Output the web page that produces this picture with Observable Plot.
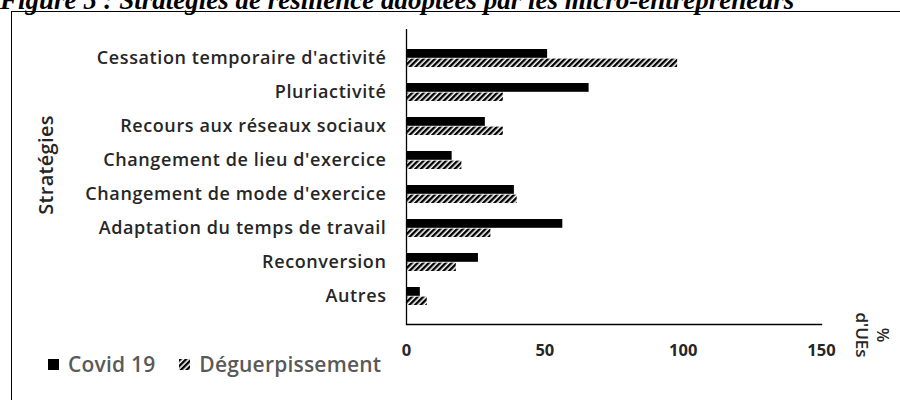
<!DOCTYPE html>
<html>
<head>
<meta charset="utf-8">
<script src="https://cdn.jsdelivr.net/npm/d3@7"></script>
<script src="https://cdn.jsdelivr.net/npm/@observablehq/plot@0.6"></script>
<style>
  html, body { margin: 0; padding: 0; background: #fff; }
  #wrap { position: relative; width: 900px; height: 400px; overflow: hidden; background: #fff; }
  #title { position: absolute; left: 0; top: -13px; font-family: "Liberation Serif", serif; font-weight: bold; font-style: italic; font-size: 27px; line-height: 1; white-space: nowrap; color: #000; }
  #frame { position: absolute; left: 11px; top: 11px; width: 1000px; height: 500px; border: 1.5px solid #000; box-sizing: border-box; }
  #chart { position: absolute; left: 0; top: 0; }
  #legend { position: absolute; left: 48px; top: 350px; font-family: "Open Sans", sans-serif; font-weight: 600; font-size: 21px; letter-spacing: 0.2px; color: #595959; display: flex; align-items: center; white-space: nowrap; }
  #legend .item { display: flex; align-items: center; margin-right: 24px; }
  #legend svg { margin-right: 9px; }
  #ylab { position: absolute; left: 45px; top: 165px; transform: translate(-50%, -50%) rotate(-90deg); font-family: "Open Sans", sans-serif; font-weight: 600; font-size: 20px; letter-spacing: 0.3px; color: #262626; white-space: nowrap; }
  #xlab { position: absolute; left: 873px; top: 335px; transform: translate(-50%, -50%) rotate(90deg); font-family: "Open Sans", sans-serif; font-weight: 600; font-size: 17px; color: #262626; white-space: nowrap; text-align: center; line-height: 1.25; }
  #chart text { font-family: "Open Sans", sans-serif; }
  #chart g[aria-label="y-axis tick label"] text { letter-spacing: 0.6px; }
</style>
</head>
<body>
<div id="wrap">
  <div id="frame"></div>
  <div id="title">Figure 5 : Stratégies de résilience adoptées par les micro-entrepreneurs</div>
  <div id="chart"></div>
  <div id="ylab">Stratégies</div>
  <div id="xlab">%<br>d'UEs</div>
  <div id="legend"></div>
</div>
<script>
const categories = [
  "Cessation temporaire d'activité",
  "Pluriactivité",
  "Recours aux réseaux sociaux",
  "Changement de lieu d'exercice",
  "Changement de mode d'exercice",
  "Adaptation du temps de travail",
  "Reconversion",
  "Autres"
];
const series = ["Covid 19", "Déguerpissement"];
const covid = [51, 66, 28.5, 16.5, 39, 56.5, 26, 5];
const deguerp = [98, 35, 35, 20, 40, 30.5, 18, 7.5];
const xTicks = [0, 50, 100, 150];

const covidRows = categories.map((c, i) => ({cat: c, serie: series[0], value: covid[i]}));
const degRows = categories.map((c, i) => ({cat: c, serie: series[1], value: deguerp[i]}));

const chart = Plot.plot({
  width: 900,
  height: 400,
  marginLeft: 406,
  marginRight: 79,
  marginTop: 29,
  marginBottom: 76,
  style: {background: "transparent", fontFamily: "'Open Sans', sans-serif"},
  x: {domain: [0, 150], ticks: xTicks},
  y: {domain: categories, padding: 0.48},
  marks: [
    Plot.barX(covidRows, {y: "cat", x: "value", fill: "#000", insetBottom: 9.2}),
    Plot.barX(degRows, {y: "cat", x: "value", fill: "url(#hatch)", insetTop: 9.6}),
    Plot.ruleX([0], {stroke: "#000", strokeWidth: 1.3}),
    Plot.frame({anchor: "bottom", stroke: "#000", strokeWidth: 1.3}),
    Plot.axisX({ticks: xTicks, tickSize: 0, tickPadding: 20, label: null, fontSize: 16.5, fontWeight: "bold", fill: "#262626"}),
    Plot.axisY({tickSize: 0, tickPadding: 20, label: null, fontSize: 18, fontWeight: 600, fill: "#262626"})
  ]
});

// hatch pattern definition
const ns = "http://www.w3.org/2000/svg";
function addHatch(svg, id) {
  const defs = document.createElementNS(ns, "defs");
  const pat = document.createElementNS(ns, "pattern");
  pat.setAttribute("id", id);
  pat.setAttribute("patternUnits", "userSpaceOnUse");
  pat.setAttribute("width", "4");
  pat.setAttribute("height", "4");
  pat.setAttribute("patternTransform", "rotate(45)");
  const bg = document.createElementNS(ns, "rect");
  bg.setAttribute("width", "4"); bg.setAttribute("height", "4"); bg.setAttribute("fill", "#fff");
  const r = document.createElementNS(ns, "rect");
  r.setAttribute("width", "2.4"); r.setAttribute("height", "4"); r.setAttribute("fill", "#000");
  pat.appendChild(bg); pat.appendChild(r);
  defs.appendChild(pat);
  svg.insertBefore(defs, svg.firstChild);
}
addHatch(chart, "hatch");
document.getElementById("chart").appendChild(chart);

// legend
const legend = document.getElementById("legend");
series.forEach((s, i) => {
  const item = document.createElement("div");
  item.className = "item";
  const sw = document.createElementNS(ns, "svg");
  sw.setAttribute("width", "11"); sw.setAttribute("height", "11");
  if (i === 1) addHatch(sw, "hatchLegend");
  const r = document.createElementNS(ns, "rect");
  r.setAttribute("width", "11"); r.setAttribute("height", "11");
  r.setAttribute("fill", i === 0 ? "#000" : "url(#hatchLegend)");
  sw.appendChild(r);
  item.appendChild(sw);
  const t = document.createElement("span");
  t.textContent = s;
  item.appendChild(t);
  legend.appendChild(item);
});
</script>
</body>
</html>
